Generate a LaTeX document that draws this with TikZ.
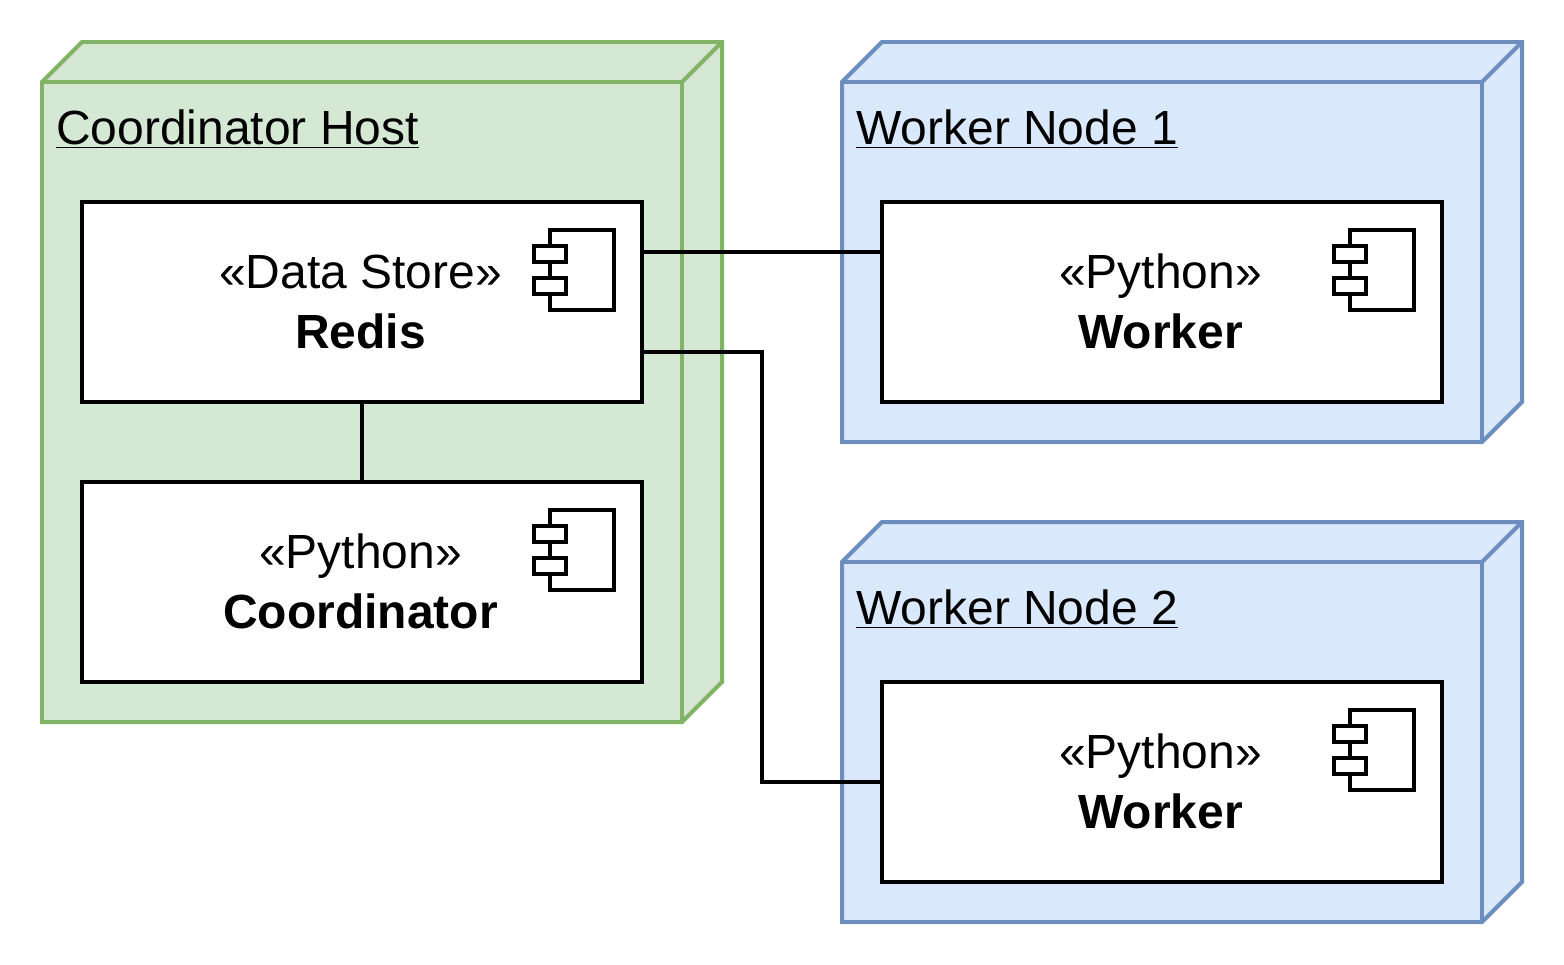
\documentclass[tikz,border=0pt]{standalone}
\usepackage{fontspec}
\setmainfont{Liberation Sans}
\tikzset{
  x=0.02cm,y=-0.02cm,
  nodeface/.style={line width=2.27pt,line join=miter},
  greenn/.style={nodeface,draw=nodegreen,fill=fillgreen},
  bluen/.style={nodeface,draw=nodeblue,fill=fillblue},
  compbox/.style={draw=black,fill=white,line width=2.27pt,minimum width=11.2cm,minimum height=4cm,inner sep=0pt,outer sep=0pt,rectangle},
  conn/.style={draw=black,line width=2.27pt},
  nodelabel/.style={font=\fontsize{27.3pt}{34pt}\selectfont,anchor=base west,inner sep=0pt},
  comptext/.style={font=\fontsize{27.3pt}{34pt}\selectfont,align=center,inner sep=0pt,anchor=center},
  icon/.style={draw=black,line width=2.27pt,fill=white},
}
\definecolor{nodegreen}{HTML}{82B366}
\definecolor{fillgreen}{HTML}{D5E8D4}
\definecolor{nodeblue}{HTML}{6C8EBF}
\definecolor{fillblue}{HTML}{DAE8FC}
\newcommand{\topstrut}{\rule{0pt}{26pt}}
\newcommand{\botstrut}{\rule[-8pt]{0pt}{8pt}}
\newcommand{\depnode}[6]{% style x0 y0 x1 y1 (front), name
  \fill[#1,draw=none] (#2,#3) -- (#2+40,#3-40) -- (#4+40,#3-40) -- (#4+40,#5-40) -- (#4,#5) -- (#2,#5) -- cycle;
  \draw[#1,fill=none] (#2,#3) -- (#2+40,#3-40) -- (#4+40,#3-40) -- (#4+40,#5-40) -- (#4,#5) -- (#2,#5) -- cycle;
  \draw[#1,fill=none] (#2,#3) -- (#4,#3) -- (#4,#5);
  \draw[#1,fill=none] (#4,#3) -- (#4+40,#3-40);
  \coordinate (#6) at (#2,#3);
}
\newcommand{\compicon}[2]{% x,y of body right-top
  \draw[icon] (#1-64,#2) rectangle (#1,#2+80);
  \draw[icon] (#1-80,#2+16) rectangle (#1-48,#2+32);
  \draw[icon] (#1-80,#2+48) rectangle (#1-48,#2+64);
}
\begin{document}
\begin{tikzpicture}
\useasboundingbox (0,0) rectangle (1564,964);
\depnode{greenn}{42}{82}{682}{722}{nc}
\depnode{bluen}{842}{82}{1482}{442}{nw}
\depnode{bluen}{842}{562}{1482}{922}{nx}
\node[nodelabel] (lc) at (56,144) {\underline{Coordinator Host}};
\node[nodelabel] (l1) at (856,144) {\underline{Worker Node 1}};
\node[nodelabel] (l2) at (856,624) {\underline{Worker Node 2}};
\node[compbox] (redis) at (362,302) {};
\node[compbox] (coord) at (362,582) {};
\node[compbox] (w1) at (1162,302) {};
\node[compbox] (w2) at (1162,782) {};
\node[comptext] (tr) at (360.5,303) {\topstrut«Data Store»\\\textbf{Redis}\botstrut};
\node[comptext] (tc) at (360.5,583) {\topstrut«Python»\\\textbf{Coordinator}\botstrut};
\node[comptext] (t1) at (1160.5,303) {\topstrut«Python»\\\textbf{Worker}\botstrut};
\node[comptext] (t2) at (1160.5,783) {\topstrut«Python»\\\textbf{Worker}\botstrut};
\compicon{614}{230}
\compicon{614}{510}
\compicon{1414}{230}
\compicon{1414}{710}
\draw[conn] (redis.east |- 0,252) -- (w1.west |- 0,252);
\draw[conn] (redis) -- (coord);
\coordinate (bend1) at (762,352);
\coordinate (bend2) at (762,782);
\draw[conn] (redis.east |- bend1) -- (bend1) -- (bend2) -- (w2.west);
\end{tikzpicture}
\end{document}
